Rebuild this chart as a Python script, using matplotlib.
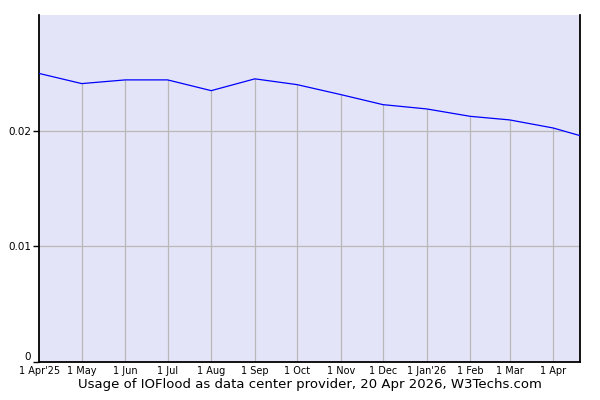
import datetime as dt

import matplotlib
matplotlib.use("Agg")
import matplotlib.pyplot as plt
import matplotlib.transforms as mtransforms

# monthly data points (share of websites)
dates = ["2025-04-01", "2025-05-01", "2025-06-01", "2025-07-01", "2025-08-01",
         "2025-09-01", "2025-10-01", "2025-11-01", "2025-12-01", "2026-01-01",
         "2026-02-01", "2026-03-01", "2026-04-01", "2026-04-20"]
usage = [0.02494, 0.02407, 0.02439, 0.02439, 0.02346,
         0.02448, 0.02398, 0.02312, 0.02225, 0.02188,
         0.02124, 0.02093, 0.02023, 0.01957]

tick_dates = ["2025-04-01", "2025-05-01", "2025-06-01", "2025-07-01", "2025-08-01",
              "2025-09-01", "2025-10-01", "2025-11-01", "2025-12-01", "2026-01-01",
              "2026-02-01", "2026-03-01", "2026-04-01"]
tick_labels = ["1 Apr'25", "1 May", "1 Jun", "1 Jul", "1 Aug", "1 Sep", "1 Oct",
               "1 Nov", "1 Dec", "1 Jan'26", "1 Feb", "1 Mar", "1 Apr"]
y_ticks = [0, 0.01, 0.02]
y_labels = ["0", "0.01", "0.02"]

x = [dt.datetime.strptime(d, "%Y-%m-%d") for d in dates]
xt = [dt.datetime.strptime(d, "%Y-%m-%d") for d in tick_dates]

fig = plt.figure(figsize=(6, 4), dpi=100)
ax = fig.add_axes([0.0658, 0.095, 0.9009, 0.8675])
ax.set_facecolor("#e4e4f8")

# area under the curve, used only to clip the grid
under = ax.fill_between(x, usage, 0, facecolor="none", edgecolor="none")
clip = under.get_paths()[0]

vl = ax.vlines(xt[1:], 0, 0.03, color="#b8b8b8", linewidth=0.9, zorder=1)
hl = ax.hlines(y_ticks[1:], x[0], x[-1], color="#b8b8b8", linewidth=0.9, zorder=1)
vl.set_clip_path(clip, ax.transData)
hl.set_clip_path(clip, ax.transData)

ax.plot(x, usage, color="#0000ff", linewidth=0.9, zorder=3)

ax.set_xlim(x[0], x[-1])
ax.set_ylim(0, 0.03)

ax.set_xticks(xt)
ax.set_xticklabels(tick_labels, fontsize=7)
ax.set_yticks(y_ticks)
ax.set_yticklabels(y_labels, fontsize=7.5)
ax.tick_params(axis="x", length=0, pad=3)
ax.tick_params(axis="y", length=4, width=1, pad=2)

# lift the "0" label a bit, as in the original
lbl0 = ax.get_yticklabels()[0]
lbl0.set_transform(lbl0.get_transform() + mtransforms.ScaledTranslation(0, 4 / 72, fig.dpi_scale_trans))

ax.spines["top"].set_visible(False)
for s in ["left", "right", "bottom"]:
    ax.spines[s].set_linewidth(1.3)
    ax.spines[s].set_color("black")

ax.set_xlabel("Usage of IOFlood as data center provider, 20 Apr 2026, W3Techs.com",
              fontsize=9.5, labelpad=1)

fig.savefig("out.png", dpi=100)
